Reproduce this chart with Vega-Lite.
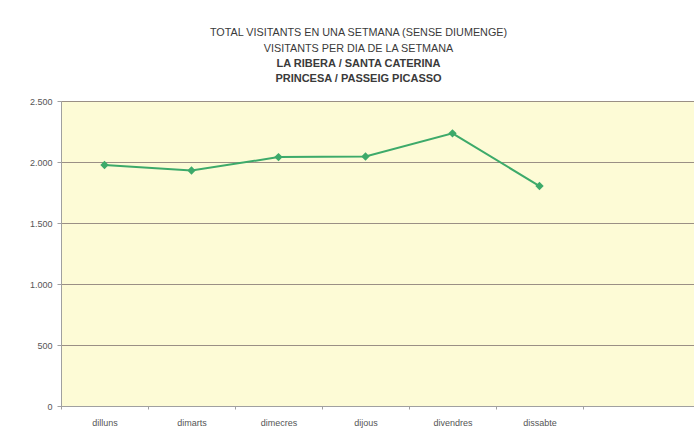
{
  "$schema": "https://vega.github.io/schema/vega-lite/v6.json",
  "autosize": "none",
  "width": 633,
  "height": 305,
  "padding": {"left": 61, "top": 101, "right": 0, "bottom": 34},
  "background": "#ffffff",
  "title": {
    "text": ["TOTAL VISITANTS EN UNA SETMANA (SENSE DIUMENGE)", "VISITANTS PER DIA DE LA SETMANA"],
    "subtitle": ["LA RIBERA / SANTA CATERINA", "PRINCESA / PASSEIG PICASSO"],
    "anchor": "middle",
    "dx": -19,
    "offset": 13,
    "font": "Liberation Sans",
    "fontSize": 10.8,
    "fontWeight": "normal",
    "color": "#3a3a3a",
    "lineHeight": 15.5,
    "subtitleFont": "Liberation Sans",
    "subtitleFontSize": 11,
    "subtitleFontWeight": "bold",
    "subtitleColor": "#3a3a3a",
    "subtitleLineHeight": 15.5,
    "subtitlePadding": 4
  },
  "data": {
    "values": [
      {"dia": "dilluns", "visitants": 1975},
      {"dia": "dimarts", "visitants": 1930},
      {"dia": "dimecres", "visitants": 2040},
      {"dia": "dijous", "visitants": 2045},
      {"dia": "divendres", "visitants": 2235},
      {"dia": "dissabte", "visitants": 1803}
    ]
  },
  "config": {
    "view": {"fill": "#FDFBD6", "stroke": "#b8b8b8", "strokeWidth": 1},
    "axis": {
      "labelFont": "Liberation Sans",
      "labelFontSize": 9,
      "labelColor": "#555555",
      "domainColor": "#a0a0a0",
      "tickColor": "#a0a0a0"
    }
  },
  "encoding": {
    "x": {
      "field": "dia",
      "type": "nominal",
      "sort": null,
      "scale": {"type": "band", "paddingInner": 0, "paddingOuter": 0.638, "align": 0},
      "axis": {
        "title": null,
        "labelAngle": 0,
        "tickBand": "extent",
        "tickSize": 3,
        "labelPadding": 9,
        "grid": false
      }
    },
    "y": {
      "field": "visitants",
      "type": "quantitative",
      "scale": {"domain": [0, 2500], "nice": false},
      "axis": {
        "title": null,
        "values": [0, 500, 1000, 1500, 2000, 2500],
        "labelExpr": "replace(format(datum.value, ','), ',', '.')",
        "tickSize": 4,
        "labelPadding": 5,
        "grid": true,
        "gridColor": "#9a8f85",
        "gridWidth": 1
      }
    }
  },
  "layer": [
    {
      "mark": {"type": "line", "color": "#3DAA6A", "strokeWidth": 2},
      "encoding": {}
    },
    {
      "mark": {"type": "point", "shape": "diamond", "filled": true, "color": "#3DAA6A", "size": 70, "opacity": 1},
      "encoding": {}
    }
  ]
}
